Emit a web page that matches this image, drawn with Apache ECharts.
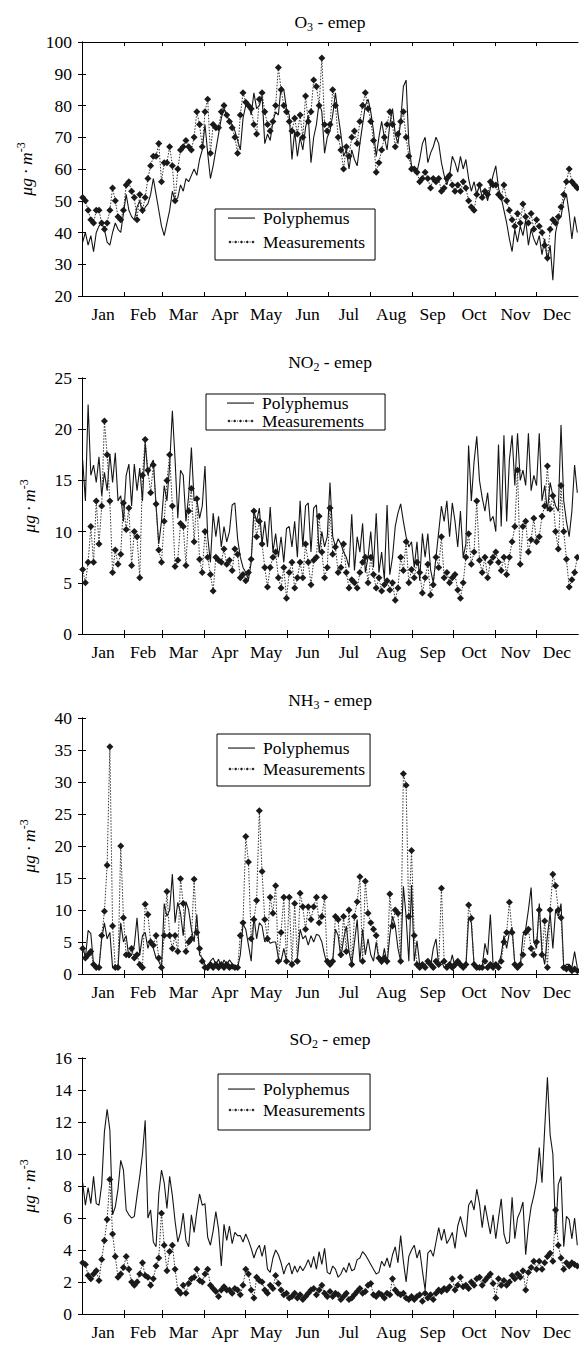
<!DOCTYPE html>
<html><head><meta charset="utf-8">
<script src="https://cdn.jsdelivr.net/npm/echarts@6/dist/echarts.min.js"></script>
<style>html,body{margin:0;padding:0;background:#fff}#c{width:579px;height:1346px}</style>
</head><body><div id="c"></div>
<script>
// Day-of-year categories: values are sampled every 2nd day (days 1,3,5,...,365)
const months = ['Jan','Feb','Mar','Apr','May','Jun','Jul','Aug','Sep','Oct','Nov','Dec'];
const monthStarts = [0,31,59,90,120,151,181,212,243,273,304,334,365];

const o3Model = [37,40,36,39,34,40,42,43,41,37,36,40,43,41,40,46,
 52,47,45,44,48,50,46,48,49,52,57,52,47,42,
 39,43,47,53,50,51,55,53,57,56,58,60,58,63,66,
 74,65,57,61,66,71,76,79,77,75,74,72,69,66,76,
 80,81,77,84,79,80,83,68,71,69,75,78,77,86,85,79,
 77,63,72,64,70,66,73,77,62,70,74,81,78,65,70,
 72,77,84,77,71,64,66,60,66,63,61,68,74,80,82,
 78,72,64,70,75,70,66,74,79,71,68,75,86,88,68,61,
 60,59,63,68,70,62,65,67,70,68,62,58,55,58,64,
 62,59,64,60,63,57,53,56,52,55,51,53,50,54,58,
 61,54,51,47,43,38,34,41,37,42,39,44,36,41,38,
 36,39,33,38,31,36,25,40,44,45,50,52,46,38,45,40];
const o3Meas = [51,50,47,44,43,47,47,43,41,43,47,54,50,45,44,47,
 55,56,53,51,44,52,47,51,57,61,64,64,68,56,
 62,62,67,61,50,60,66,67,69,67,66,70,78,74,67,
 78,82,65,74,73,73,78,80,77,75,73,70,65,77,84,
 81,80,79,74,71,82,84,78,74,72,75,80,92,85,80,78,
 75,72,76,71,77,70,83,75,78,88,86,80,95,74,72,
 74,85,80,70,66,60,67,64,70,72,68,75,80,84,79,
 75,69,59,62,66,70,74,78,74,67,71,75,78,70,64,60,
 60,59,56,57,59,57,54,57,56,57,53,54,57,58,55,
 53,55,53,56,54,50,48,47,52,55,51,53,52,56,55,
 55,52,51,55,50,47,44,42,46,43,49,45,43,46,41,
 44,42,40,36,32,41,44,43,45,48,52,56,60,56,55,54];

const no2Model = [17,13,22.4,15.5,16.5,14.8,17.3,13.5,15.8,14,17.6,14.8,17.7,13,13.5,11,
 15.5,16.6,12.5,16.6,14,16.2,13,18.7,15.5,16.5,17,12.5,8.8,11,
 14.5,13,16.5,21.8,17,11.3,16,15.5,11,13.5,18.2,13,13.2,11.3,12.5,
 16.4,9.5,7,11.8,9.5,11.5,8.5,10.5,9,10,12.6,12.8,9.3,7.5,6.5,
 6,5.3,7,12,11,12.3,8.8,11,8.5,12.4,8,9.8,7.5,9.5,7,10.3,
 10.5,8.5,11,7.5,13,8.5,12.5,12.8,8,12.3,12.6,8,10,8.5,9.5,
 14.8,9.5,8.5,9.3,8.8,8,7.5,6.5,11.7,6.2,9.5,8,10.8,6,7.5,
 10,6.5,11.8,6,8,5.3,12.6,5.8,7.5,10.5,11.8,12.7,11,9.5,8.5,9,
 6.5,9,5.2,9.8,7.5,9.8,6.3,5,7.5,10,12.5,11,13,9.5,12.8,
 11,8.5,12,7.5,8.8,18.4,13,16.8,19.3,15,13.3,12,13.8,11,11.5,
 10,18.5,10.5,19.4,11,17,19.4,14.5,19.6,15,16,14.5,19.6,14,15.5,
 14.5,19.6,13,14.5,12,14.8,13.5,12.5,12,20.4,13,11,9.5,12,16.5,13.8];
const no2Meas = [6.3,5,7,10.5,7,13,8.8,12.5,20.8,17.5,13,6,8.2,6.8,7.8,12.8,
 10.2,12.3,6.7,10,9.5,5.5,15.5,19,16,13.8,16.5,12.7,8.2,7,
 11,15,17.5,12.5,6.6,7.2,10.8,10.5,6.7,12,14.2,9,13.2,7.3,6,
 10,7.5,5.8,4.2,7.5,7.2,7,8.3,6.8,7.2,6.2,8.3,7.8,5.5,5.8,
 5.2,6,7.3,12,9.5,11,8.8,6.5,4.6,6.5,7.5,8,5.5,4.5,6.5,3.5,
 6,7,4.5,5.5,7,5.5,8.8,7,4.8,7.2,7.5,11.5,8,5.5,6.5,
 12.3,7.8,8.5,6,6.5,8.8,6,4.5,5.3,5,4.5,6,7,7.5,5,
 7.5,5.8,4.5,5.5,4.2,4.8,5.2,4.3,5,3.3,4.5,7.5,6.2,9,5,6.3,
 5.5,7,6,4,5.5,6.8,3.8,4.8,7.5,6.5,9.5,5.5,6,5,5.5,
 5.8,4.3,3.5,5,7.5,9.8,6.8,8,13,7.2,6,7.5,5.5,7,7.5,
 8,7,6.2,7.5,5.8,7.5,9,10.5,16,6.8,10.5,11,8,9.2,11.3,
 9,9.5,11.5,12.5,16.4,12.2,13.5,10,8.3,14.5,10,7.3,4.6,5.3,6,7.5];

const nh3Model = [4.5,2.5,6.8,6.3,1.5,1,1,5.5,8,5.5,6.5,1,1,1,8,5,
 6,2.5,3,4.5,8.8,3,6,6.5,4,5.5,4,2.5,2,1,
 11,9,10,15.6,8,11.2,9.5,6,11.3,10,7,5,9.3,3,2.5,
 1.5,0.5,2,2.5,1.5,2.3,1,2.2,1.5,2.2,1.6,1,1,3,7.8,
 7,4.5,2,9,5.5,8,7.5,5,5.5,4.8,5,5,2.5,2,4,2,
 2,1.5,2,2.5,7,5.5,6,4.5,6,5,6.2,6,5,3,1.5,
 1.5,2,7,6,2.5,5.5,7.5,3.5,1.5,5,8.5,2,7,3,5.5,
 3,2,5,2.2,1.5,4,1.5,6,9,7.5,4,2,13.7,9,2,13.9,
 2,5.2,1.5,1,1.4,2,1.2,4,5.5,1.3,2,1,1.5,1.2,3,
 1,1.5,1,1.2,1,8.8,8,1.5,1,1.2,1,4.8,3,9.3,1.5,
 1,1.5,3,6,4,6.5,7.3,1.5,0.8,1.3,6,7,10,13.5,5,
 4,11,3.5,1.5,6,9.5,4,10,9,11,1,1.5,1.5,1,3.5,1];
const nh3Meas = [4,2.5,3,3.5,1.5,1,1,6,9.8,17,35.5,7.5,1,1,20,8.8,
 3,3,4,2.5,3,1.5,1,10.9,9.3,5,4.5,6,2.5,1,
 6,12.9,6,4,6,3.5,14.9,11,3.5,5,5.5,14.8,6.5,4,2,
 1,1,1.5,1,1.5,1,1.5,1,1.5,1,1.2,1,1,6,8,
 21.5,17.5,5.5,8.5,11.5,25.5,16,8.5,5.5,12,9.5,13.8,2,6.5,12,2,
 12,1.5,11,2,12.6,10.5,7,10.5,8.5,10.5,12,8,9,12,2,
 1.5,2,9,8.5,3,9,3.5,10,1.5,9,11.3,15.2,2,14.5,9.5,
 8,7,6,2.5,2,2.5,2,12.5,7.5,10,9.5,2,31.3,29.5,9,19.3,
 6,1.5,1,1.5,1,2,1.5,1,2,1.5,13.4,2,1,1.5,1,
 1.5,2,1.5,1,1.5,10.8,8.7,1.5,1,1,1,2,1,1.5,1,
 1.5,1,2,5,6.5,11.2,6.5,1.5,1,1.5,3,6.5,7,4,3,
 5,10,3,8.3,1,10,15.6,13.8,10,8.8,1,0.8,1,0.5,0.8,0.5];

const so2Model = [8.2,6.8,7.9,6.9,8.6,6.9,6.8,8.1,11.4,12.8,11.5,6.2,6.7,7.8,9.6,9,
 6.5,6.2,6,6.1,7.4,8.6,10,12.1,6,6.5,4.5,4.2,7.5,9,
 8.2,6.6,8.6,7.4,5.8,4.5,5.1,6.3,4.6,4.2,6.2,5.1,6.4,7.5,6.8,
 6.9,4.8,4.3,5.2,6.4,5.3,3,5.6,4.6,5.5,4.4,5.1,4.9,4.9,4.5,
 5,4.6,4.1,3.5,4,4.3,3.6,4.3,2.8,2.6,3.5,4,3.7,3.2,2.5,3,
 3.2,2.5,3,2.6,3,2.7,3,3.4,2.9,3.6,2.8,3.9,3.1,4.1,2.6,
 2.5,3,2.8,2.3,2.5,2.9,2.6,3.2,2.7,2.8,3.4,3.5,3.9,3.7,3.4,
 3.1,2.8,2.5,2.6,3.3,3,3.5,2.9,3.7,4.2,3.2,4.9,3.3,2,3.6,4,
 4.3,3.5,4,2.7,1.5,3.8,4,3.6,4.5,5.4,4.6,5.3,4.4,4.7,5.1,
 4.1,5.5,6.1,5.4,4.8,6.8,7.1,6.5,7.8,6.9,5.4,6.8,5.9,5,6.2,
 4.7,6,7.2,5,4.4,4.5,7.3,4.7,6,6.4,7,3.7,5.5,6.7,7.4,
 8.3,10.4,8.2,11.6,14.8,11.2,10,5,8.1,8.6,4.2,6.1,5.9,4.7,6,4.3];
const so2Meas = [3.2,3.1,2.4,2.2,2.5,2.7,2.1,3.4,4.6,5.9,8.4,5,3.6,2.3,2.5,2.9,
 3.6,2.8,2,1.8,2,2.5,3.2,2.4,2.3,1.8,2.2,3,3.5,6.3,
 4.3,2.7,3.9,4.3,2.8,1.5,1.3,1.8,1.3,1.9,2.2,2.3,2.8,2.1,2,
 2.5,2.8,1.8,1.6,1.4,1.1,1.5,1.7,1.5,1.5,1.3,1.6,1.5,1.2,1.8,
 2.8,2.5,1.5,1,2.3,2.1,2,1.5,1.3,1.8,1.6,2.4,1.9,1.5,1.2,1.3,
 1,1.1,1.3,1,1.2,0.9,1.1,1.3,1.5,1.6,1.2,1.5,1.8,1.3,1.1,
 1.4,1.1,1.3,1.2,0.9,1.1,1.3,0.9,1,1.2,1.4,1.6,1.3,1.4,1.8,
 1.9,1.2,1.1,1.3,1.2,1,1.3,1.2,2.2,1.5,1.3,1.2,1.3,1,0.9,1.1,
 0.9,1.1,1.2,0.8,1.3,1,1.2,0.9,1.3,1.5,1.4,1.6,1.5,1.7,2.2,
 1.5,1.8,2.3,1.7,1.8,1.6,2,1.8,2.2,2.3,1.8,2.1,2.3,2.5,1.9,
 1,2.2,1.8,2.1,1.8,2,2.4,2.2,2.5,2.3,2.7,1.5,2.6,2.9,3.3,
 2.8,3.3,2.8,3.2,3.6,3.8,3.3,6.5,4.3,3.5,2.8,3.2,3,3.2,3.1,3];

const seriesNames = ['Polyphemus','Measurements'];
const titles = [['O','3'],['NO','2'],['NH','3'],['SO','2']];
const yMin = [20,0,0,0], yMax = [100,25,40,16], yStep = [10,5,5,2];

const FONT = "Liberation Serif, Times New Roman, serif";
const FS = 17.5;
const layout = [
  {top:42, height:254, titleY:22, lg:{left:215, top:209, padding:[0,10,9,13], itemGap:6}},
  {top:378, height:256, titleY:362, lg:{left:206, top:394, padding:[0,21,0,21], itemGap:0}},
  {top:718, height:256, titleY:700, lg:{left:217, top:734, padding:[5,5,8,11], itemGap:3}},
  {top:1058, height:256, titleY:1039, lg:{left:218, top:1074, padding:[6,5,11,10], itemGap:3}}
];
const data = [[o3Model,o3Meas],[no2Model,no2Meas],[nh3Model,nh3Meas],[so2Model,so2Meas]];

// legend sample icons (a solid stroke; a row of small diamonds joined by dots)
const ICON_SOLID = 'path://M0,0M27,14M0,6.5L27,6.5L27,7.6L0,7.6Z';
let md = 'path://M0,0M27,14';
[2,7.75,13.5,19.25,25].forEach(c=>{ md += `M${c-1.6},7L${c},5.4L${c+1.6},7L${c},8.6Z`; });
[4.9,10.6,16.4,22.1].forEach(c=>{ md += `M${c-0.5},6.5L${c+0.5},6.5L${c+0.5},7.5L${c-0.5},7.5Z`; });
const ICON_MEAS = md;

const monthMids = months.map((m,i)=> (monthStarts[i]+monthStarts[i+1])/2);
const toPts = arr => arr.map((v,i)=>[2*i+0.5, v]);

const grids=[], xAxes=[], yAxes=[], series=[], legends=[], graphics=[];
const tickStyle = {inside:true, length:4, lineStyle:{color:'#000', width:1}};
const lineStyle = {lineStyle:{color:'#000', width:1}};
layout.forEach((L,k)=>{
  grids.push({left:82, right:1, top:L.top, height:L.height, containLabel:false});
  const xb = {type:'value', gridIndex:k, min:0, max:365, position:'bottom',
    axisLine:{show:true, ...lineStyle}, splitLine:{show:false},
    axisTick:{...tickStyle, customValues: monthStarts.slice(1,-1)},
    axisLabel:{customValues: monthMids, margin:9, fontSize:FS, fontFamily:FONT, color:'#000',
      formatter: v => { const i = monthMids.findIndex(m=>Math.abs(m-v)<0.01); return i>=0?months[i]:''; }}};
  const xt = {type:'value', gridIndex:k, min:0, max:365, position:'top',
    axisLine:{show:true, ...lineStyle}, splitLine:{show:false},
    axisTick:{...tickStyle, customValues: monthStarts.slice(1,-1)}, axisLabel:{show:false}};
  xAxes.push(xb, xt);
  const yl = {type:'value', gridIndex:k, min:yMin[k], max:yMax[k], interval:yStep[k], position:'left',
    axisLine:{show:true, ...lineStyle}, splitLine:{show:false}, axisTick:tickStyle,
    axisLabel:{margin:10, fontSize:FS, fontFamily:FONT, color:'#000'},
    name:'{it|μg · m}{sup|-3}', nameLocation:'middle', nameRotate:90, nameGap:42,
    nameTextStyle:{fontFamily:FONT, color:'#000', rich:{
      it:{fontStyle:'italic', fontSize:FS, fontFamily:FONT, color:'#000'},
      sup:{fontSize:12, fontFamily:FONT, color:'#000', padding:[0,0,10,0]}}}};
  const yr = {type:'value', gridIndex:k, min:yMin[k], max:yMax[k], interval:yStep[k], position:'right',
    axisLine:{show:true, ...lineStyle}, splitLine:{show:false}, axisTick:tickStyle, axisLabel:{show:false}};
  yAxes.push(yl, yr);
  series.push({type:'line', name:seriesNames[0], xAxisIndex:2*k, yAxisIndex:2*k, data:toPts(data[k][0]),
    symbol:'none', showSymbol:false, lineStyle:{color:'#151515', width:1.1}, itemStyle:{color:'#111'}, z:2});
  series.push({type:'line', name:seriesNames[1], xAxisIndex:2*k, yAxisIndex:2*k, data:toPts(data[k][1]),
    symbol:'diamond', symbolSize:7, showSymbol:true, showAllSymbol:true,
    lineStyle:{color:'#333', width:1, type:[1.5,1.5]}, itemStyle:{color:'#1a1a1a'}, z:3});
  legends.push({orient:'vertical', left:L.lg.left, top:L.lg.top, padding:L.lg.padding, itemGap:L.lg.itemGap,
    itemWidth:27, itemHeight:14, borderColor:'#000', borderWidth:1, borderRadius:0, backgroundColor:'#fff',
    data:[{name:seriesNames[0], icon:ICON_SOLID}, {name:seriesNames[1], icon:ICON_MEAS}], selectedMode:false,
    textStyle:{fontSize:FS, fontFamily:FONT, color:'#000', lineHeight:18, padding:[0,0,0,3]}});
  graphics.push({type:'text', x:330, y:L.titleY, style:{
    text:'{a|'+titles[k][0]+'}{s|'+titles[k][1]+'}{a| - emep}', align:'center', verticalAlign:'middle',
    rich:{a:{fontSize:FS, fontFamily:FONT, fill:'#000'}, s:{fontSize:12, fontFamily:FONT, fill:'#000', padding:[9,0,0,0]}}}});
});

const chart = echarts.init(document.getElementById('c'), null, {renderer:'svg'});
chart.setOption({animation:false, backgroundColor:'#fff', grid:grids, xAxis:xAxes, yAxis:yAxes,
  series:series, legend:legends, graphic:graphics});
</script></body></html>
